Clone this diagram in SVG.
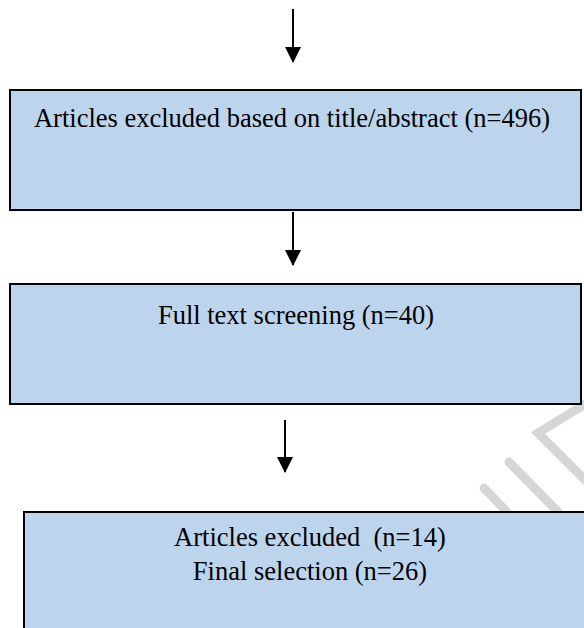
<svg xmlns="http://www.w3.org/2000/svg" width="584" height="628" viewBox="0 0 584 628">
<style>
.box{fill:#BDD5EC;stroke:#000;stroke-width:2}
.t{font-family:"Liberation Serif","Times New Roman",serif;font-size:26.5px;fill:#000;text-anchor:middle;white-space:pre}
.c{stroke:#000;stroke-width:2;fill:none}
.wm{stroke:#D6D6D6;stroke-width:9;stroke-linecap:round;fill:none}
</style>
<defs>
<marker id="ah" markerWidth="8" markerHeight="8" refX="7.5" refY="4" orient="auto" markerUnits="strokeWidth">
<path d="M0,0 L8,4 L0,8 Z" fill="#000"/>
</marker>
</defs>
<rect width="584" height="628" fill="#fff"/>
<g id="watermark">
<path class="wm" d="M484,488 L507,512"/>
<path class="wm" d="M509,462 L558,512"/>
<path class="wm" d="M590,401 L538,433 L590,485"/>
</g>
<g id="connectors">
<line class="c" x1="293" y1="9" x2="293" y2="62" marker-end="url(#ah)"/>
<line class="c" x1="293" y1="212" x2="293" y2="265" marker-end="url(#ah)"/>
<line class="c" x1="285" y1="420" x2="285" y2="472" marker-end="url(#ah)"/>
</g>
<g id="node1">
<rect class="box" x="10" y="90" width="571" height="120"/>
<text class="t" x="292" y="127">Articles excluded based on title/abstract (n=496)</text>
</g>
<g id="node2">
<rect class="box" x="10" y="284" width="571" height="120"/>
<text class="t" x="296" y="324">Full text screening (n=40)</text>
</g>
<g id="node3">
<rect class="box" x="24" y="512" width="580" height="140"/>
<text class="t" x="310" y="546" xml:space="preserve">Articles excluded  (n=14)</text>
<text class="t" x="310" y="580">Final selection (n=26)</text>
</g>
</svg>
